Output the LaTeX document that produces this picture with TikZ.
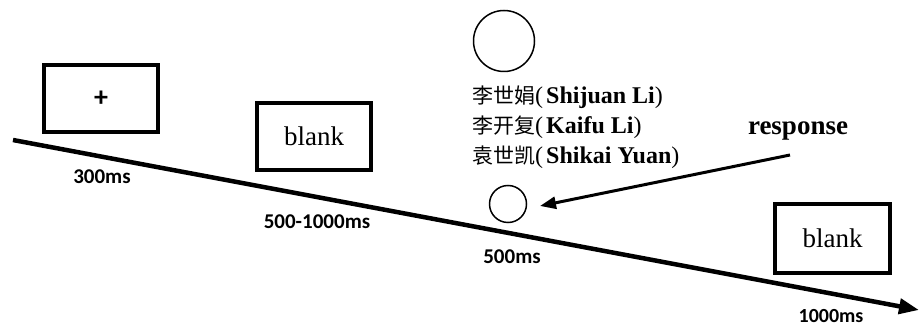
\documentclass[tikz,border=0pt]{standalone}
\usepackage{fontspec}
\setmainfont{Liberation Serif}
\newfontfamily\cjk{Noto Sans CJK SC}
\newfontfamily\lab{Carlito}
\usetikzlibrary{arrows.meta}
\newcommand{\zh}[1]{{\cjk\fontsize{21}{21}\selectfont #1}}
\newcommand{\en}[1]{(\hspace{3pt}\textbf{#1})}
\begin{document}
\begin{tikzpicture}[x=1pt,y=-1pt,
  screen/.style={draw,line width=4pt,minimum width=114pt,minimum height=67pt,inner sep=0pt},
  timelab/.style={font=\lab\bfseries\fontsize{21}{21}\selectfont,inner sep=0pt},
  stim/.style={draw,circle,line width=1.5pt,inner sep=0pt},
  cname/.style={anchor=west,inner sep=0pt,font=\fontsize{24}{24}\selectfont}]
\useasboundingbox (0,0) rectangle (921,328);
\coordinate (t0) at (13,140);
\coordinate (t1) at (919,310);
\draw[line width=4.5pt,-{Triangle[length=20pt,width=15pt]}] (t0) -- (t1);
\node[screen] (fix) at (101,98.5) {\lab\bfseries\fontsize{28}{28}\selectfont +};
\node[screen] (b1) at (314,136.5) {\fontsize{27}{27}\selectfont blank};
\node[screen,minimum width=115pt,minimum height=69pt] (b2) at (832.5,238.5) {\fontsize{27}{27}\selectfont blank};
\node[timelab] (l1) at (102,177) {300ms};
\node[timelab] (l2) at (317,222) {500-1000ms};
\node[timelab] (l3) at (512,257) {500ms};
\node[timelab,font=\lab\bfseries\fontsize{20}{20}\selectfont] (l4) at (831,316) {1000ms};
\node[stim,minimum size=61pt] (c1) at (504,41) {};
\node[stim,minimum size=37pt] (c2) at (508,204) {};
\node[cname] (n1) at (472,97) {\zh{李世娟}\en{Shijuan Li}};
\node[cname] (n2) at (472,127) {\zh{李开复}\en{Kaifu Li}};
\node[cname] (n3) at (472,157) {\zh{袁世凯}\en{Shikai Yuan}};
\node[inner sep=0pt,font=\bfseries\fontsize{27}{27}\selectfont] (resp) at (798,131) {response};
\coordinate (rs) at (790,155);
\coordinate (rt) at (540,206);
\draw[line width=3pt,-{Triangle[length=16pt,width=12pt]}] (rs) -- (rt);
\end{tikzpicture}
\end{document}
